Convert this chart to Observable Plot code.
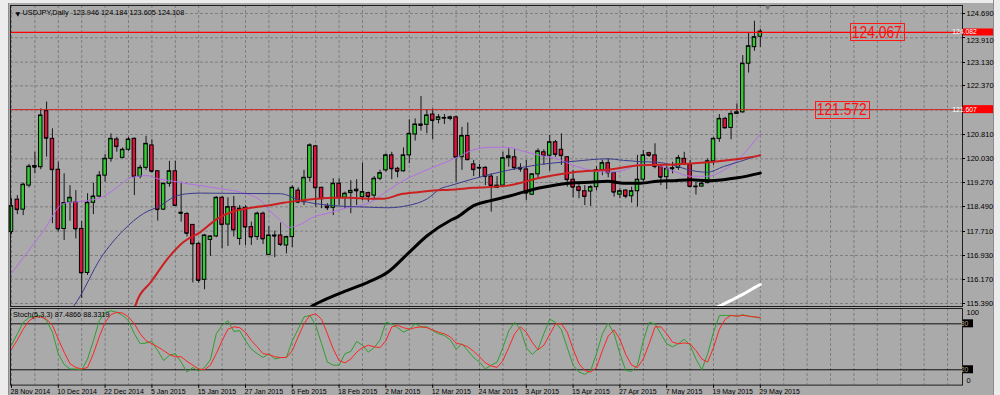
<!DOCTYPE html>
<html>
<head>
<meta charset="utf-8">
<script src="https://cdn.jsdelivr.net/npm/d3@7"></script>
<script src="https://cdn.jsdelivr.net/npm/@observablehq/plot@0.6"></script>
<style>
  html, body { margin: 0; padding: 0; background: #ececec; }
  #chart { position: relative; width: 1000px; height: 395px; overflow: hidden; background: #aaaaaa; font-family: "Liberation Sans", Arial, sans-serif; }
  #chart > div.plot { position: absolute; left: 0; }
  #chart svg { overflow: visible; display: block; }
  .strip { position: absolute; background: #ececec; }
</style>
</head>
<body>
<div id="chart">
  <div class="strip" style="left:0;top:0;width:8px;height:395px;border-right:1px solid #8c8c8c"></div>
  <div class="strip" style="left:0;top:0;width:1000px;height:3px;"></div>
  <div class="strip" style="left:993px;top:0;width:7px;height:395px;border-left:1px solid #8c8c8c"></div>
  <div class="plot" id="main" style="top:0"></div>
  <div class="plot" id="stoch" style="top:306px"></div>
  <div style="position:absolute;left:765px;top:4px;font-size:7px;color:#7a7a7a;font-family:'DejaVu Sans'">▼</div>
</div>
<script>
// ---------- data ----------
const symbolTitle = "USDJPY,Daily  123.946 124.184 123.605 124.108";
const stochTitle = "Stoch(5,3,3) 87.4866 88.3319";
const dateLabels = ["28 Nov 2014","10 Dec 2014","22 Dec 2014","5 Jan 2015","15 Jan 2015","27 Jan 2015","6 Feb 2015","18 Feb 2015","2 Mar 2015","12 Mar 2015","24 Mar 2015","3 Apr 2015","15 Apr 2015","27 Apr 2015","7 May 2015","19 May 2015","29 May 2015"];
const dateBars = [0,8,16,24,32,40,48,56,64,72,80,88,96,104,112,120,128];
const priceTicks = [124.690,123.910,123.130,122.370,121.590,120.810,120.030,119.270,118.490,117.710,116.930,116.170,115.390];
const priceLabels = [124.690,123.130,122.370,120.810,120.030,119.270,118.490,117.710,116.930,116.170,115.390];
const priceLabelsUnderTag = [123.910];

const open  = [117.68,118.72,118.40,119.17,119.80,119.76,121.56,120.67,119.68,117.78,118.62,118.64,117.78,116.37,118.62,118.82,119.49,120.03,120.65,120.06,120.32,120.67,119.46,119.74,120.46,119.63,118.40,119.23,119.63,118.30,118.26,117.91,117.30,116.15,117.43,117.54,118.78,117.92,118.48,117.46,118.46,117.84,117.52,118.27,116.95,117.57,117.57,117.25,117.52,119.01,118.64,119.42,120.43,119.10,118.50,118.46,119.23,118.78,118.93,119.04,118.80,118.93,118.85,119.39,119.66,120.14,119.71,119.63,120.14,120.81,121.13,121.12,121.45,121.28,121.34,121.31,121.36,120.08,120.76,119.85,119.74,119.74,119.46,119.10,119.17,120.05,120.08,119.74,119.69,118.88,119.53,120.24,120.13,120.56,120.32,120.08,119.36,119.12,118.99,118.98,119.12,119.66,119.89,119.58,118.88,119.01,118.83,118.99,119.36,120.21,120.14,119.78,119.44,119.73,119.74,120.03,119.85,119.14,119.14,119.25,119.95,120.67,121.31,121.02,121.47,121.52,123.08,123.61,123.946];
const high  = [118.75,118.85,119.25,119.85,120.24,121.63,121.85,120.99,119.92,119.55,119.17,119.01,118.02,118.91,119.25,119.62,120.17,120.83,120.72,120.38,120.72,120.70,119.82,120.75,120.64,119.65,119.25,119.95,119.95,119.28,118.31,117.92,117.35,117.60,117.56,118.82,118.82,118.78,118.82,118.53,118.53,118.00,118.32,118.32,117.86,117.71,117.97,117.55,119.17,119.10,119.66,120.51,120.46,119.12,118.59,119.39,119.39,118.96,119.33,119.36,119.89,118.96,119.46,119.66,120.19,120.24,119.76,120.38,121.28,121.31,122.03,121.60,121.63,121.45,121.45,121.40,121.40,121.04,121.18,119.98,119.85,119.78,119.55,119.46,120.24,120.35,120.32,119.87,119.98,119.55,120.35,120.32,120.78,120.62,120.83,120.10,119.66,119.20,119.17,119.17,119.78,119.98,120.03,119.60,119.07,119.04,119.12,120.14,120.30,120.24,120.51,119.82,119.78,119.92,120.14,120.24,119.98,119.28,119.28,120.03,120.72,121.45,121.36,121.56,121.79,123.34,124.07,124.44,124.184];
const low   = [117.60,118.24,118.21,119.10,119.55,119.68,120.08,117.95,117.68,117.41,118.03,117.46,115.55,116.29,118.24,118.78,119.28,119.92,120.24,120.03,120.27,118.85,119.39,119.66,119.57,118.03,118.37,119.12,118.53,118.00,117.52,116.05,116.04,115.83,116.90,117.50,117.14,117.22,117.52,117.25,117.25,117.25,117.41,117.28,116.93,116.86,117.22,116.98,117.18,118.59,118.53,119.28,118.48,118.43,118.37,118.21,118.53,118.43,118.27,118.53,118.69,118.64,118.69,119.33,119.60,119.36,119.42,119.60,119.87,120.60,120.92,120.83,120.64,121.15,121.13,121.25,119.28,119.66,119.98,119.46,119.42,119.17,118.32,119.08,119.12,119.76,119.66,119.60,118.69,118.85,119.42,119.82,119.63,120.08,119.82,119.12,118.78,118.75,118.53,118.50,119.01,119.49,119.42,118.80,118.75,118.75,118.61,118.48,119.28,120.08,119.71,119.17,119.04,119.55,119.66,119.82,119.10,118.87,119.12,119.23,119.82,120.56,120.99,120.64,121.45,121.49,122.78,123.48,123.605];
const close = [118.51,118.40,119.20,119.78,119.76,121.42,120.69,119.68,117.78,118.61,118.78,117.78,116.37,118.62,118.82,119.49,120.03,120.67,120.42,120.32,120.65,119.46,119.74,120.51,119.63,118.40,119.23,119.63,118.53,118.28,117.64,117.30,116.13,117.57,117.54,118.78,117.92,118.48,117.75,118.43,117.84,117.52,118.27,117.46,117.57,117.55,117.28,117.52,119.10,118.64,119.42,120.46,119.10,118.75,118.46,119.23,118.78,118.91,119.00,119.00,118.96,118.82,119.39,119.57,120.14,119.71,119.63,120.14,120.83,121.13,121.10,121.42,121.26,121.36,121.33,121.36,120.08,120.76,120.00,119.68,119.73,119.46,119.17,119.17,120.05,120.11,119.74,119.70,118.93,119.53,120.27,120.13,120.56,120.17,120.13,119.36,119.12,119.01,118.82,119.12,119.66,119.89,119.58,118.96,118.99,118.83,118.99,119.36,120.14,120.14,119.78,119.44,119.71,119.71,120.05,119.85,119.14,119.13,119.23,119.95,120.67,121.31,121.02,121.47,121.52,123.08,123.64,123.93,124.108];

// moving averages (bar position, price)
const maPurpleBar = [0,5.5,8.9,13,15.2,18.1,20.3,23.2,25,27.7,30.1,32.3,35.7,39.1,42.6,44.6,46,47.4,48.9,51.6,54,57.4,59.7,61.9,64.3,67,68.7,72.1,75,76.2,79,81.9,84.8,87.5,90.4,93.3,96.1,99,101.9,104.6,107.5,110.4,113.2,116.1,119,121.7,124.6,128];
const maPurple    = [116.36,117.73,118.60,118.69,118.78,119.12,119.42,119.49,119.39,119.31,119.23,119.17,119.07,118.96,118.69,118.28,118.05,117.83,117.89,118.16,118.28,118.46,118.53,118.69,119.01,119.33,119.49,119.76,119.98,120.08,120.32,120.40,120.40,120.27,120.14,120.03,119.82,119.66,119.60,119.66,119.85,119.82,119.63,119.47,119.47,119.66,120.08,120.83];
const maNavyBar = [10.1,11.3,15.2,19.1,22.6,25.5,27.7,30.1,32.3,39.1,46,49.4,55,60.9,64.3,67.7,71.1,73.3,75,79,84.8,90.4,96.1,101.9,104.6,107.5,110.4,113.2,116.1,119,121.7,124.6,128];
const maNavy    = [115.17,115.49,116.83,117.73,118.28,118.53,118.80,118.91,118.93,118.92,118.91,118.69,118.53,118.48,118.46,118.53,118.75,119.07,119.17,119.39,119.66,119.85,119.95,120.03,119.98,119.94,119.92,119.82,119.66,119.60,119.78,119.95,120.16];
const maRedBar = [20.9,21.5,23.8,26.7,29.4,32.3,35.2,37.9,40.9,43.8,46.5,49.4,52.3,55,57.9,60.9,63.6,66.5,69.4,72.1,75,79,84.8,90.4,96.1,101.9,107.5,113.2,119,124.6,128];
const maRed    = [115.17,115.49,116.07,116.83,117.36,117.68,118.11,118.34,118.46,118.53,118.62,118.69,118.75,118.78,118.78,118.75,118.75,118.89,118.96,119.01,119.04,119.10,119.17,119.42,119.60,119.68,119.82,119.85,119.92,120.03,120.14];
const maBlackBar = [50.6,51.6,53.3,57.4,60.9,64.3,67.7,71.1,75,76.2,79,81.9,84.8,87.5,90.4,93.3,96.1,99,101.9,104.6,107.5,110.4,113.2,116.1,119,121.7,124.1,128];
const maBlack    = [115.20,115.33,115.49,115.81,116.07,116.39,116.98,117.57,118.05,118.16,118.53,118.69,118.82,118.96,119.10,119.20,119.26,119.28,119.31,119.25,119.25,119.31,119.33,119.36,119.33,119.36,119.42,119.57];
const maWhiteBar = [120.4,123,125,127,128];
const maWhite    = [115.25,115.49,115.68,115.90,116.00];

const levelLines = [124.082, 121.607];
const levelText = ["124.082", "121.607"];
const noteBars = [148, 142];
const noteText = ["124.067", "121.572"];

const stochMain = [52,67,82,88,90,91,84,69,41,27,21,21,20,34,58,84,95,97,95,91,84,67,54,55,57,45,32,39,41,30,17,23,18,23,33,67,78,84,70,71,58,47,41,36,41,34,36,36,58,73,89,91,78,54,30,26,26,41,44,57,52,43,49,59,82,80,75,69,73,80,76,76,71,67,65,59,47,54,45,36,30,21,26,30,49,71,82,73,49,40,47,67,86,82,72,49,26,17,14,19,41,67,81,67,41,19,18,26,58,82,80,67,54,50,54,60,52,34,20,41,69,91,91,91,90,92,90,89,87.49];
const stochSignal = [47,59,73,84,89,89,86,78,60,43,28,23,21,23,41,63,82,92,95,94,89,80,67,58,54,50,45,40,37,37,31,26,21,20,26,41,58,73,76,75,69,58,50,41,40,37,36,36,45,63,80,91,93,86,67,47,32,29,34,43,49,52,50,49,58,76,78,75,73,75,76,75,72,69,67,63,55,53,50,44,37,29,25,23,32,49,67,76,69,56,46,52,66,80,80,69,47,28,19,17,23,45,64,72,60,40,26,23,34,54,76,76,67,56,54,55,54,45,34,30,49,73,86,91,90,91,90,89,88.33];
const stochLevels = [80, 20];

// ---------- build ----------
const F = "'Liberation Sans', Arial, sans-serif";
const xDomain = [-0.17, 162.56];
const gridBars = d3.range(0, 163, 4);
const bars = open.map((o, i) => ({i, o, h: high[i], l: low[i], c: close[i]}));
const pts = (xs, ys) => xs.map((x, k) => ({x, y: ys[k]}));
const GRID = {stroke: "#7e7e7e", strokeOpacity: 1, strokeDasharray: "3,2"};
const BW = 0.3;

function rightTicks(vals, len) {
  return (index, scales, values, dims) => {
    const g = d3.create("svg:g").attr("stroke", "#000");
    const x0 = dims.width - dims.marginRight;
    for (const v of vals) {
      const y = Math.round(scales.y(v)) + 0.5;
      g.append("line").attr("x1", x0).attr("x2", x0 + len).attr("y1", y).attr("y2", y);
    }
    return g.node();
  };
}
function priceTag(value, label, bg, fg, w, h) {
  return (index, scales, values, dims) => {
    const y = scales.y(value);
    const x0 = dims.width - dims.marginRight;
    const g = d3.create("svg:g");
    g.append("rect").attr("x", x0 + 1).attr("y", y - h / 2).attr("width", w).attr("height", h).attr("fill", bg);
    g.append("text").attr("x", x0 + 2.5).attr("y", y).attr("dy", "0.35em").attr("fill", fg)
      .attr("font-size", 6.8).attr("font-family", F).text(label);
    return g.node();
  };
}
function boxNote(bar, value, label) {
  return (index, scales) => {
    const x = scales.x(bar), y = scales.y(value);
    const g = d3.create("svg:g");
    g.append("rect").attr("x", Math.round(x - 27) + 0.5).attr("y", Math.round(y - 8.5) + 0.5)
      .attr("width", 54).attr("height", 17).attr("fill", "none").attr("stroke", "#ff1a1a");
    g.append("text").attr("x", x).attr("y", y).attr("dy", "0.36em").attr("text-anchor", "middle")
      .attr("fill", "#ff1010").attr("font-size", 17).attr("font-family", F)
      .attr("textLength", 50).attr("lengthAdjust", "spacingAndGlyphs").text(label);
    return g.node();
  };
}

const main = Plot.plot({
  width: 1000, height: 306,
  marginLeft: 10, marginRight: 38, marginTop: 5, marginBottom: 0,
  style: {background: "transparent", fontFamily: F, fontSize: "7.5px", color: "#000", overflow: "visible"},
  x: {domain: xDomain, axis: null},
  y: {domain: [115.293, 124.947], axis: null},
  color: {type: "identity"},
  marks: [
    Plot.ruleX(gridBars, GRID),
    Plot.ruleY(priceTicks, GRID),
    Plot.ruleX(bars, {x: "i", y1: "l", y2: "h", stroke: "#161616"}),
    Plot.rect(bars, {x1: d => d.i - BW, x2: d => d.i + BW, y1: "o", y2: "c",
      fill: d => d.c >= d.o ? "#33cc33" : "#dc143c", stroke: "#000", strokeWidth: 1}),
    Plot.ruleY(bars, {y: "c", x1: d => d.i - BW, x2: d => d.i + BW, stroke: "#000"}),
    Plot.line(pts(maPurpleBar, maPurple), {x: "x", y: "y", stroke: "#b46ee6", strokeWidth: 1, curve: "monotone-x", clip: true}),
    Plot.line(pts(maNavyBar, maNavy), {x: "x", y: "y", stroke: "#3a3a8e", strokeWidth: 1, curve: "monotone-x", clip: true}),
    Plot.line(pts(maRedBar, maRed), {x: "x", y: "y", stroke: "#cc1f1f", strokeWidth: 2, curve: "monotone-x", clip: true}),
    Plot.line(pts(maBlackBar, maBlack), {x: "x", y: "y", stroke: "#000", strokeWidth: 3, curve: "monotone-x", clip: true}),
    Plot.line(pts(maWhiteBar, maWhite), {x: "x", y: "y", stroke: "#fff", strokeWidth: 3, curve: "monotone-x", clip: true}),
    Plot.ruleY([levelLines[0]], {stroke: "#ff0000", strokeWidth: 1.3}),
    Plot.ruleY([levelLines[1]], {stroke: "#d42020", strokeWidth: 1}),
    Plot.frame({stroke: "#1e1e1e"}),
    Plot.text(priceLabels, {y: d => d, frameAnchor: "right", dx: 4, textAnchor: "start", text: d => d.toFixed(3), fill: "#000"}),
    Plot.text(priceLabelsUnderTag, {y: d => d, frameAnchor: "right", dx: 4, dy: 3, textAnchor: "start", text: d => d.toFixed(3), fill: "#000"}),
    rightTicks(priceTicks, 3),
    priceTag(levelLines[0], levelText[0], "#ff0000", "#fff", 30, 7),
    priceTag(levelLines[1], levelText[1], "#ff0000", "#fff", 30, 8),
    boxNote(noteBars[0], levelLines[0], noteText[0]),
    boxNote(noteBars[1], levelLines[1], noteText[1]),
    Plot.text(["▼"], {text: d => d, frameAnchor: "top-left", dx: 5, dy: 6.5, fontSize: 6, fill: "#000", fontFamily: "DejaVu Sans"}),
    Plot.text([symbolTitle], {text: d => d, frameAnchor: "top-left", dx: 12, dy: 6.7, textAnchor: "start", lineAnchor: "middle", fontSize: 7.3, fill: "#000"})
  ]
});
document.getElementById("main").appendChild(main);

const stoch = Plot.plot({
  width: 1000, height: 89,
  marginLeft: 10, marginRight: 38, marginTop: 2, marginBottom: 10.4,
  style: {background: "transparent", fontFamily: F, fontSize: "7.5px", color: "#000", overflow: "visible"},
  x: {domain: xDomain, axis: null},
  y: {domain: [0, 100], axis: null},
  marks: [
    Plot.ruleX(gridBars, GRID),
    Plot.ruleY(stochLevels, {stroke: "#111"}),
    Plot.lineY(stochMain, {stroke: "#2f9e2f", strokeWidth: 1}),
    Plot.lineY(stochSignal, {stroke: "#ff2424", strokeWidth: 1}),
    Plot.frame({stroke: "#1e1e1e"}),
    Plot.text([stochTitle], {text: d => d, frameAnchor: "top-left", dx: 2.5, dy: 6, textAnchor: "start", lineAnchor: "middle", fontSize: 7.3, fill: "#000"}),
    Plot.text(["100"], {text: d => d, frameAnchor: "top-right", dx: 4, dy: 4.5, textAnchor: "start", lineAnchor: "middle", fill: "#000"}),
    Plot.text(["0"], {text: d => d, frameAnchor: "bottom-right", dx: 4, dy: -4.5, textAnchor: "start", lineAnchor: "middle", fill: "#000"}),
    priceTag(stochLevels[0], String(stochLevels[0]), "#000", "#b8a888", 10, 8),
    priceTag(stochLevels[1], String(stochLevels[1]), "#000", "#b8a888", 10, 8),
    Plot.ruleX(dateBars, {y1: 0, y2: -4.2, stroke: "#000"}),
    Plot.text(dateBars, {x: d => d, text: (d, i) => dateLabels[i], frameAnchor: "bottom", dy: 4, dx: -1, textAnchor: "start", lineAnchor: "top", fontSize: 7, fill: "#000"})
  ]
});
document.getElementById("stoch").appendChild(stoch);
</script>
</body>
</html>
